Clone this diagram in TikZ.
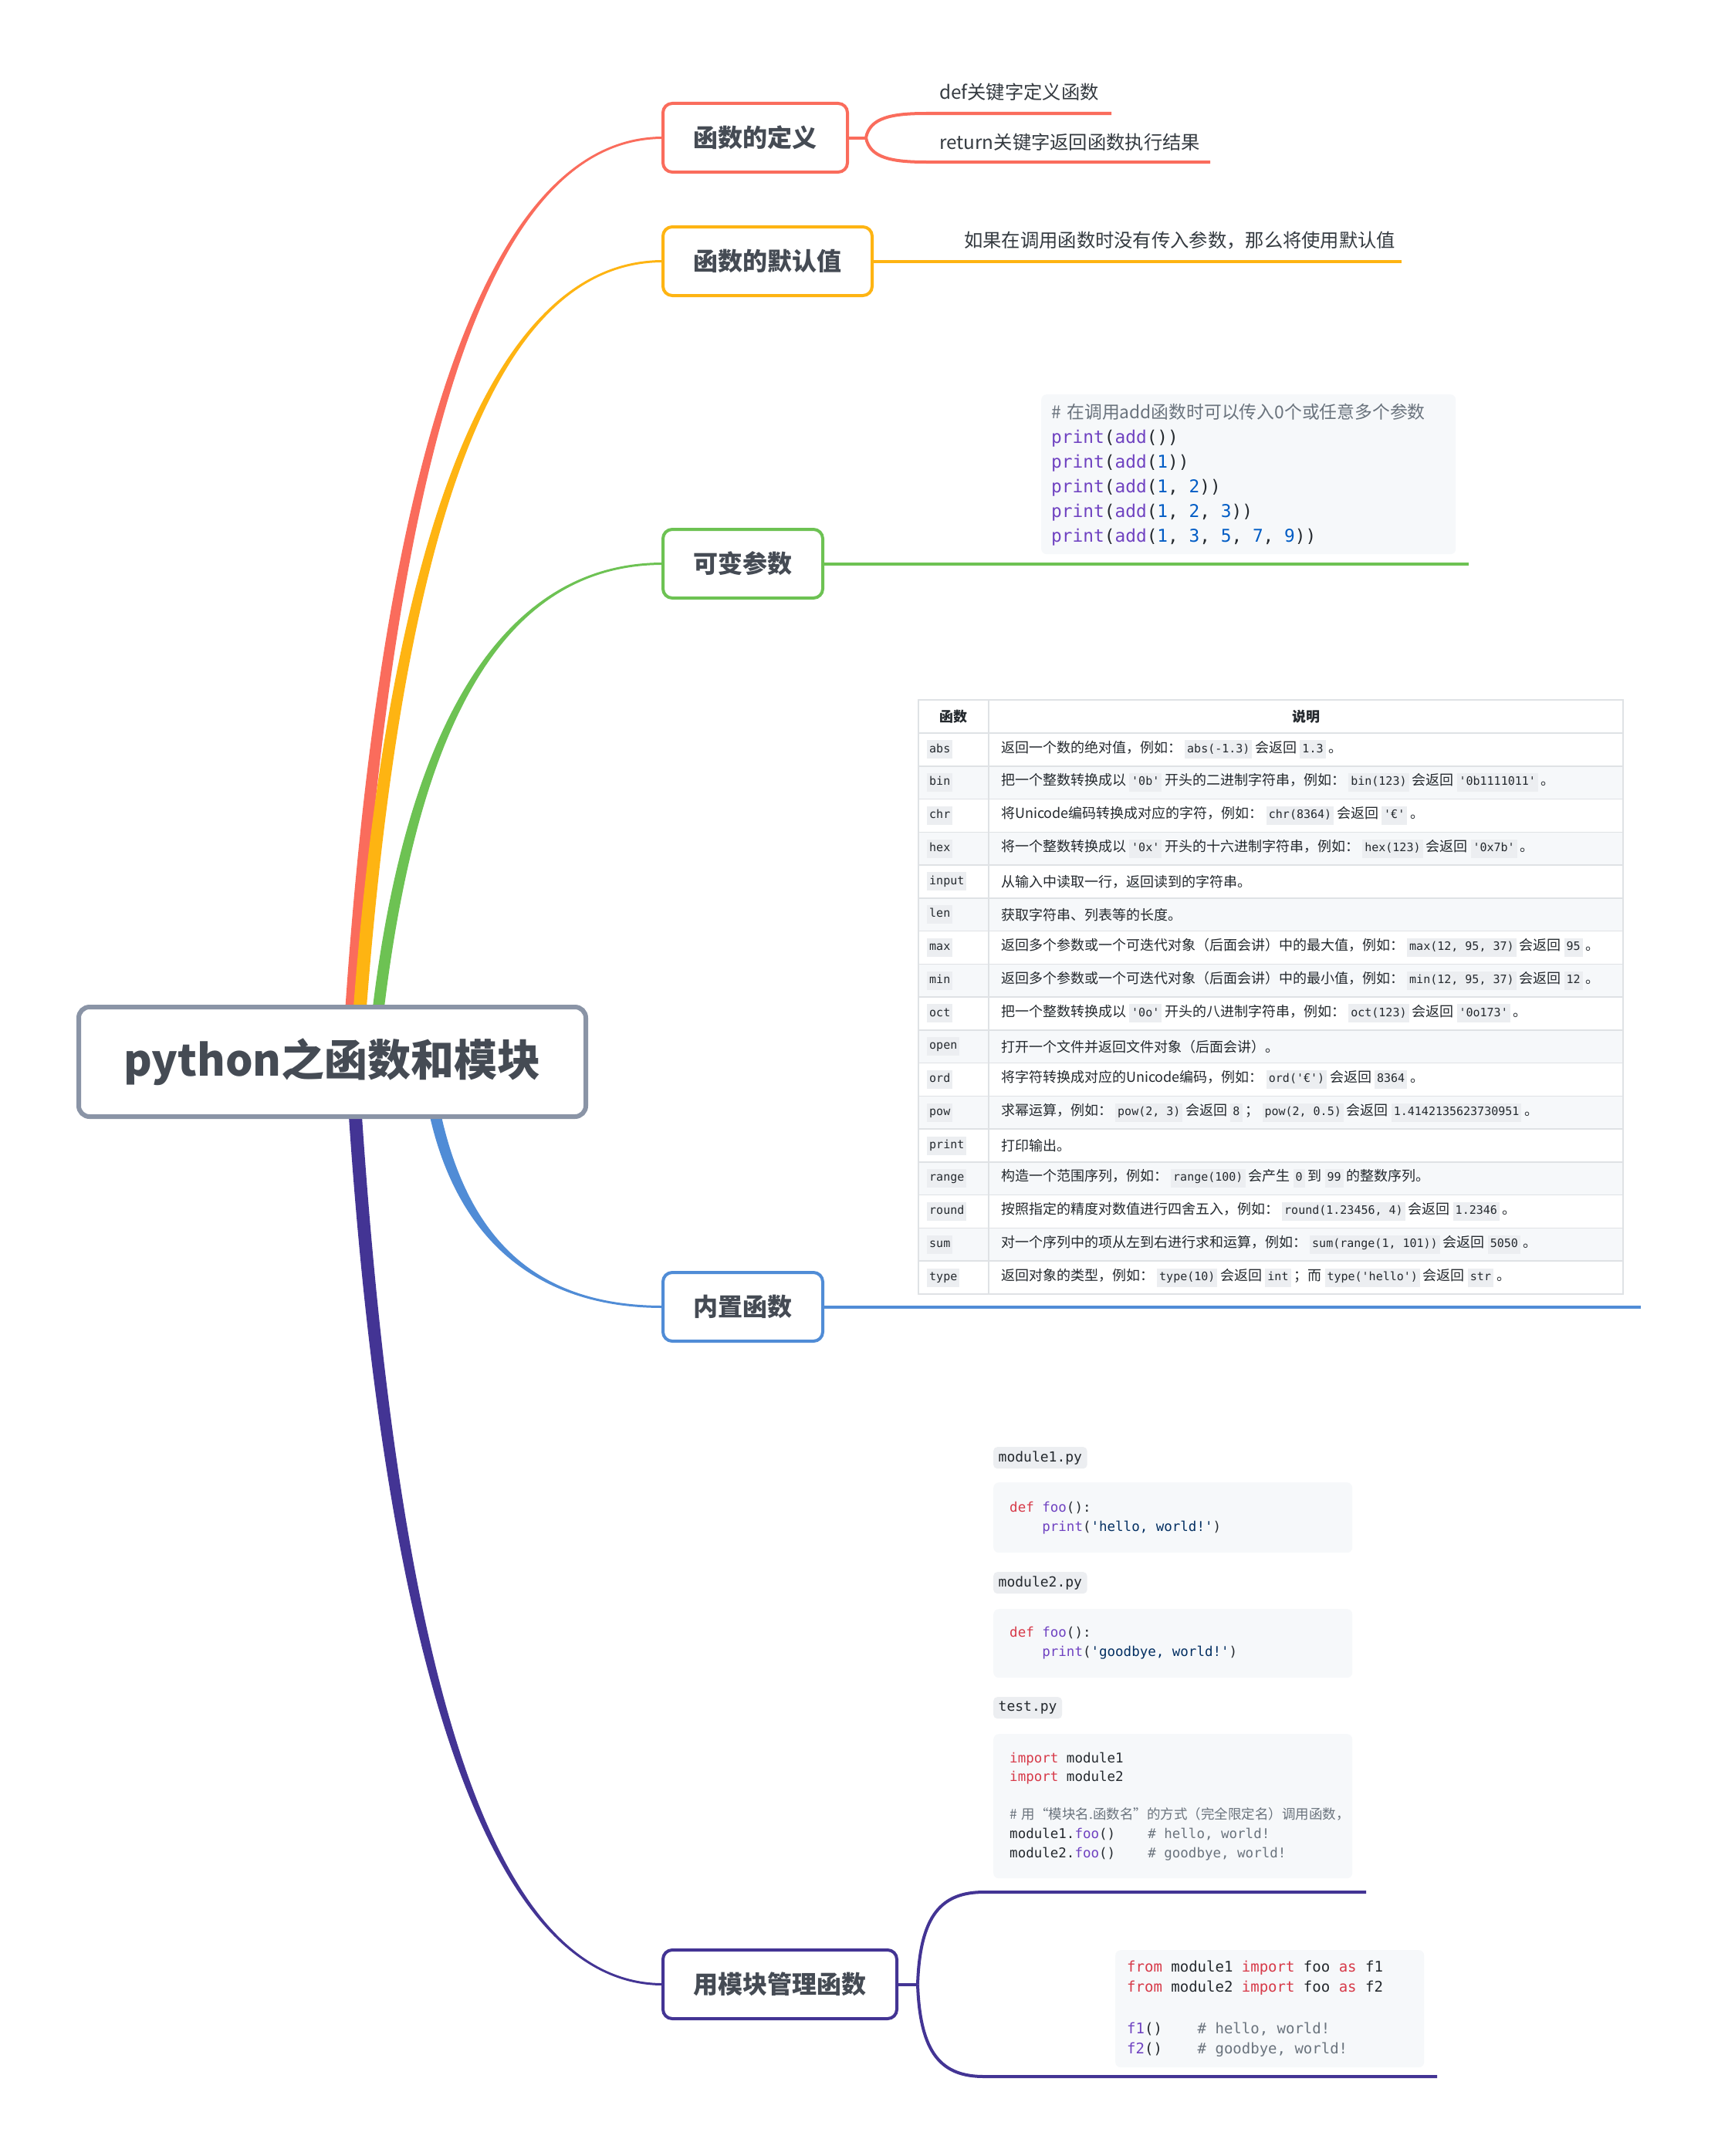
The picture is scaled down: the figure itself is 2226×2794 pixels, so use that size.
\documentclass[tikz,border=0pt]{standalone}
\usepackage{fontspec}
\setmainfont{Noto Sans CJK SC}
\setmonofont{DejaVu Sans Mono}
\newfontfamily\cjk{Noto Sans CJK SC}
\usetikzlibrary{calc,backgrounds}
\definecolor{cred}{RGB}{250,108,92}
\definecolor{cyellow}{RGB}{254,180,18}
\definecolor{cgreen}{RGB}{109,194,83}
\definecolor{cblue}{RGB}{80,140,214}
\definecolor{cpurple}{RGB}{67,52,148}
\definecolor{rootgray}{RGB}{138,148,166}
\definecolor{nodetext}{RGB}{69,75,84}
\definecolor{leaftext}{RGB}{52,58,64}
\definecolor{codetext}{RGB}{36,41,46}
\definecolor{codebg}{RGB}{246,248,250}
\definecolor{chipbg}{RGB}{236,238,241}
\definecolor{tabline}{RGB}{223,226,229}
\definecolor{pyred}{RGB}{215,58,73}
\definecolor{pypurple}{RGB}{111,66,193}
\definecolor{pyblue}{RGB}{0,92,197}
\definecolor{pynavy}{RGB}{3,47,98}
\definecolor{pygray}{RGB}{106,115,125}

\newcommand{\pykw}[1]{\textcolor{pyred}{#1}}
\newcommand{\pyfn}[1]{\textcolor{pypurple}{#1}}
\newcommand{\pynum}[1]{\textcolor{pyblue}{#1}}
\newcommand{\pystr}[1]{\textcolor{pynavy}{#1}}
\newcommand{\pycom}[1]{\textcolor{pygray}{#1}}
\newcommand{\ws}{\hspace{0.602em}}
\newcommand{\monosize}[2]{\ttfamily\fontsize{#1}{#2}\selectfont}
\newcommand{\ic}[1]{\kern4pt{\setlength{\fboxsep}{3pt}\colorbox{chipbg}{\monosize{15}{18}\strut #1}}\kern4pt}
% tapered branch from the root to a topic
\newcommand{\twig}[5]{%
  \fill[#1] let \p1=(#2), \p2=(#3) in
    ({\x1-#4},\y1) .. controls ({\x1-#4+0.127*(\x2-\x1)},{\y1+0.667*(\y2-\y1)}) and ({\x2-0.54*(\x2-\x1)},{\y2+(#5)}) .. (\x2,{\y2+(#5)})
    -- (\x2,{\y2-(#5)}) .. controls ({\x2-0.54*(\x2-\x1)},{\y2-(#5)}) and ({\x1+#4+0.127*(\x2-\x1)},{\y1+0.667*(\y2-\y1)}) .. ({\x1+#4},\y1) -- cycle;}

\tikzset{
  rootbox/.style={draw=rootgray,line width=6,rounded corners=14,fill=white,minimum width=657,minimum height=142,outer sep=0,text=nodetext,font=\bfseries\fontsize{56}{64}\selectfont},
  topic/.style={draw=#1,line width=4,rounded corners=12,fill=white,minimum height=89,anchor=west,outer sep=0,text=nodetext,font=\bfseries\fontsize{32}{38}\selectfont},
  leaf/.style={anchor=west,inner sep=0,text=leaftext,font=\fontsize{24.3}{30}\selectfont},
  twigline/.style={draw=#1,line width=4},
  codeblock/.style={fill=codebg,rounded corners=7,anchor=north west,align=left,inner ysep=0,text=codetext},
  filechip/.style={fill=chipbg,rounded corners=5,anchor=north west,inner xsep=6.5,inner ysep=0,minimum height=28,text=codetext,font=\monosize{18}{22}},
  cell/.style={anchor=west,inner sep=0,text=codetext,font=\fontsize{18}{21}\selectfont},
  tabrule/.style={draw=tabline,line width=1.5}
}

\begin{document}
\begin{tikzpicture}[x=1pt,y=-1pt]
\useasboundingbox (0,0) rectangle (2226,2794);

\node[rootbox] (root) at (430.5,1376) {python之函数和模块};

\node[topic=cred,minimum width=239] (fdef) at (859,178.5) {函数的定义};
\node[topic=cyellow,minimum width=271] (fdefault) at (859,338.5) {函数的默认值};
\node[topic=cgreen,minimum width=207] (fvar) at (859,730.5) {可变参数};
\node[topic=cblue,minimum width=207] (fbuiltin) at (859,1693.5) {内置函数};
\node[topic=cpurple,minimum width=303] (fmod) at (859,2571.5) {用模块管理函数};

\begin{scope}[on background layer]
\fill[white] (0,0) rectangle (2226,2794);
\twig{cred}{$(root.north)+(25,0)$}{fdef.west}{8pt}{1.5pt}
\twig{cyellow}{$(root.north)+(36,0)$}{fdefault.west}{8.5pt}{1.5pt}
\twig{cgreen}{$(root.north)+(60,0)$}{fvar.west}{7.5pt}{1.5pt}
\twig{cblue}{$(root.south)+(134,0)$}{fbuiltin.west}{7.5pt}{-1.5pt}
\twig{cpurple}{$(root.south)+(30,0)$}{fmod.west}{8.5pt}{-1.5pt}
\end{scope}

% 函数的定义
\node[leaf] (defkw) at (1217,119) {def关键字定义函数};
\node[leaf] (retkw) at (1217,184) {return关键字返回函数执行结果};
\coordinate (fork1) at ($(fdef.east)+(24,0)$);
\coordinate (defa) at (1200,147);
\coordinate (defb) at (1440,147);
\coordinate (reta) at (1200,210);
\coordinate (retb) at (1568,210);
\draw[twigline=cred] (fdef.east) -- (fork1);
\draw[twigline=cred] (fork1) .. controls +(5,-26) and +(-45,0) .. (defa) -- (defb);
\draw[twigline=cred] (fork1) .. controls +(5,26) and +(-45,0) .. (reta) -- (retb);

% 默认值
\node[leaf] (dflt) at (1249,312) {如果在调用函数时没有传入参数，那么将使用默认值};
\coordinate (dflte) at (1816,338.5);
\draw[twigline=cyellow] (fdefault.east) -- (dflte);

% 可变参数
\node[codeblock,minimum width=537,minimum height=207,text width=511,inner xsep=13,
  font=\monosize{22.8}{32}] (varcode) at (1349,511) {%
  {\cjk\pycom{\# 在调用add函数时可以传入0个或任意多个参数}}\\
  \pyfn{print}(\pyfn{add}())\\
  \pyfn{print}(\pyfn{add}(\pynum{1}))\\
  \pyfn{print}(\pyfn{add}(\pynum{1},\ws\pynum{2}))\\
  \pyfn{print}(\pyfn{add}(\pynum{1},\ws\pynum{2},\ws\pynum{3}))\\
  \pyfn{print}(\pyfn{add}(\pynum{1},\ws\pynum{3},\ws\pynum{5},\ws\pynum{7},\ws\pynum{9}))};
\coordinate (vare) at (1903,730.5);
\draw[twigline=cgreen] (fvar.east) -- (vare);

% 内置函数 table
\foreach \i in {1,3,...,15}
  \fill[codebg] (1190,{950+42.76*\i}) rectangle (2103,{950+42.76*(\i+1)});
\foreach \i in {0,...,16}
  \draw[tabrule] (1190,{950+42.76*\i}) -- (2103,{950+42.76*\i});
\draw[tabrule] (1190,907) rectangle (2103,1677);
\draw[tabrule] (1281,907) -- (1281,1677);
\node[cell,anchor=center,font=\bfseries\fontsize{18}{21}\selectfont] (thfn) at (1235.5,928.5) {函数};
\node[cell,anchor=center,font=\bfseries\fontsize{18}{21}\selectfont] (thdesc) at (1692,928.5) {说明};
\foreach \bif/\bdesc [count=\i from 0] in {
  abs/{返回一个数的绝对值，例如：\ic{abs(-1.3)}会返回\ic{1.3}。},
  bin/{把一个整数转换成以\ic{'0b'}开头的二进制字符串，例如：\ic{bin(123)}会返回\ic{'0b1111011'}。},
  chr/{将Unicode编码转换成对应的字符，例如：\ic{chr(8364)}会返回\ic{'€'}。},
  hex/{将一个整数转换成以\ic{'0x'}开头的十六进制字符串，例如：\ic{hex(123)}会返回\ic{'0x7b'}。},
  input/{从输入中读取一行，返回读到的字符串。},
  len/{获取字符串、列表等的长度。},
  max/{返回多个参数或一个可迭代对象（后面会讲）中的最大值，例如：\ic{max(12,\ws 95,\ws 37)}会返回\ic{95}。},
  min/{返回多个参数或一个可迭代对象（后面会讲）中的最小值，例如：\ic{min(12,\ws 95,\ws 37)}会返回\ic{12}。},
  oct/{把一个整数转换成以\ic{'0o'}开头的八进制字符串，例如：\ic{oct(123)}会返回\ic{'0o173'}。},
  open/{打开一个文件并返回文件对象（后面会讲）。},
  ord/{将字符转换成对应的Unicode编码，例如：\ic{ord('€')}会返回\ic{8364}。},
  pow/{求幂运算，例如：\ic{pow(2,\ws 3)}会返回\ic{8}；\ic{pow(2,\ws 0.5)}会返回\ic{1.4142135623730951}。},
  print/{打印输出。},
  range/{构造一个范围序列，例如：\ic{range(100)}会产生\ic{0}到\ic{99}的整数序列。},
  round/{按照指定的精度对数值进行四舍五入，例如：\ic{round(1.23456,\ws 4)}会返回\ic{1.2346}。},
  sum/{对一个序列中的项从左到右进行求和运算，例如：\ic{sum(range(1,\ws 101))}会返回\ic{5050}。},
  type/{返回对象的类型，例如：\ic{type(10)}会返回\ic{int}；而\ic{type('hello')}会返回\ic{str}。}}{
  \node[cell] (fn\i) at (1197,{971.4+42.76*\i}) {\ic{\bif}};
  \node[cell] (desc\i) at (1297,{971.4+42.76*\i}) {\bdesc};
}
\coordinate (bie) at (2126,1693.5);
\draw[twigline=cblue] (fbuiltin.east) -- (bie);

% 用模块管理函数
\node[filechip] (m1name) at (1287,1875) {module1.py};
\node[codeblock,minimum width=465,minimum height=91,text width=423,inner xsep=21,
  font=\monosize{17.5}{25}] (m1code) at (1287,1921) {%
  \pykw{def}\ws\pyfn{foo}():\\
  \phantom{0000}\pyfn{print}(\pystr{'hello,\ws world!'})};
\node[filechip] (m2name) at (1287,2037) {module2.py};
\node[codeblock,minimum width=465,minimum height=89,text width=423,inner xsep=21,
  font=\monosize{17.5}{25}] (m2code) at (1287,2085) {%
  \pykw{def}\ws\pyfn{foo}():\\
  \phantom{0000}\pyfn{print}(\pystr{'goodbye,\ws world!'})};
\node[filechip] (tname) at (1287,2199) {test.py};
\node[codeblock,minimum width=465,minimum height=187,text width=423,inner xsep=21,
  font=\monosize{17.5}{24.6}] (tcode) at (1287,2247) {%
  \pykw{import}\ws module1\\
  \pykw{import}\ws module2\\[24.6pt]
  {\cjk\pycom{\# 用“模块名.函数名”的方式（完全限定名）调用函数，}}\\
  module1.\pyfn{foo}()\ws\ws\ws\ws\pycom{\#\ws hello,\ws world!}\\
  module2.\pyfn{foo}()\ws\ws\ws\ws\pycom{\#\ws goodbye,\ws world!}};
\node[codeblock,minimum width=400,minimum height=152,text width=370,inner xsep=15,
  font=\monosize{19}{26.7}] (fromcode) at (1445,2527) {%
  \pykw{from}\ws module1\ws\pykw{import}\ws foo\ws\pykw{as}\ws f1\\
  \pykw{from}\ws module2\ws\pykw{import}\ws foo\ws\pykw{as}\ws f2\\[26.7pt]
  \pyfn{f1}()\ws\ws\ws\ws\pycom{\#\ws hello,\ws world!}\\
  \pyfn{f2}()\ws\ws\ws\ws\pycom{\#\ws goodbye,\ws world!}};
\coordinate (fork5) at ($(fmod.east)+(27,0)$);
\coordinate (moda) at (1275,2452);
\coordinate (modb) at (1770,2452);
\coordinate (froma) at (1275,2691);
\coordinate (fromb) at (1862,2691);
\draw[twigline=cpurple] (fmod.east) -- (fork5);
\draw[twigline=cpurple] (fork5) .. controls +(3,-90) and +(-55,0) .. (moda) -- (modb);
\draw[twigline=cpurple] (fork5) .. controls +(3,90) and +(-55,0) .. (froma) -- (fromb);
\end{tikzpicture}
\end{document}
